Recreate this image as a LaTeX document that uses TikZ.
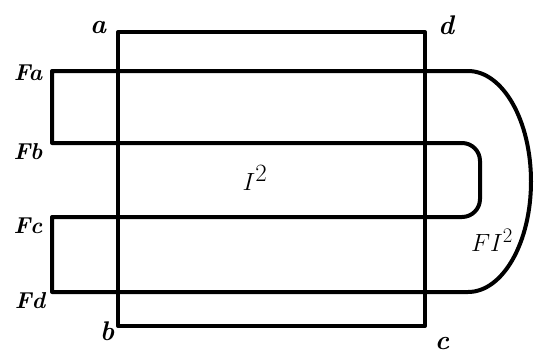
\documentclass[tikz,border=0pt]{standalone}
\begin{document}
\begin{tikzpicture}[x=1pt,y=-1pt,
  wire/.style={line width=4pt,line join=round,line cap=round},
  lab/.style={font=\fontsize{23}{25}\selectfont\bfseries\itshape,inner sep=0pt},
  corner/.style={font=\fontsize{27}{29}\selectfont\bfseries\itshape,inner sep=0pt}]
\useasboundingbox (0,0) rectangle (538,354);
% square corners
\coordinate (A) at (118,32);
\coordinate (D) at (425,32);
\coordinate (C) at (425,326);
\coordinate (B) at (118,326);
\draw[wire] (A) -- (D) -- (C) -- (B) -- cycle;
% loop lines
\coordinate (FaL) at (52,71);
\coordinate (FaR) at (468,71);
\coordinate (FbL) at (52,143);
\coordinate (FbR) at (462,143);
\coordinate (FcL) at (52,217);
\coordinate (FcR) at (462,217);
\coordinate (FdL) at (52,292);
\coordinate (FdR) at (468,292);
\coordinate (M) at (531,181.5);
\draw[wire] (FbR) -- (FbL) -- (FaL) -- (FaR)
  .. controls (502.8,71) and (531,120.5) .. (M)
  .. controls (531,242.5) and (502.8,292) .. (FdR)
  -- (FdL) -- (FcL) -- (FcR);
\draw[wire,rounded corners=18pt] (FbR) -- (480,143) -- (480,217) -- (FcR);
% labels
\node[corner] (la) at (98,28) {a};
\node[corner] (ld) at (446,25) {d};
\node[corner] (lb) at (107,331) {b};
\node[corner] (lc) at (442,343) {c};
\node[lab] (lFa) at (28,73) {Fa};
\node[lab] (lFb) at (28,152) {Fb};
\node[lab] (lFc) at (28,226) {Fc};
\node[lab] (lFd) at (30,301) {Fd};
\node[font=\fontsize{38}{40}\selectfont,inner sep=0pt] (I2) at (255,178) {$I^2$};
\node[font=\fontsize{32}{34}\selectfont,inner sep=0pt] (FI2) at (492,240) {$FI^2$};
\end{tikzpicture}
\end{document}
